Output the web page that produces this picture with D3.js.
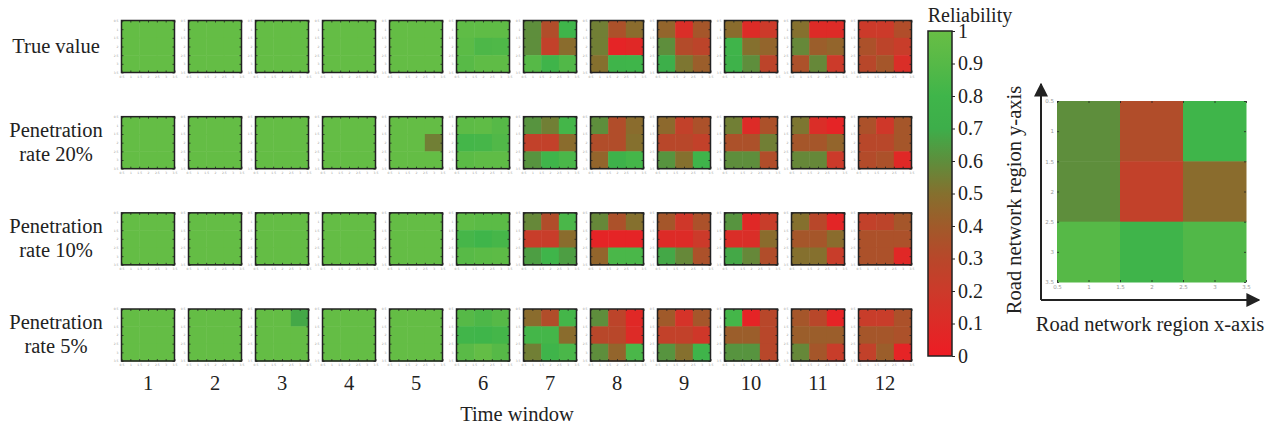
<!DOCTYPE html>
<html>
<head>
<meta charset="utf-8">
<script src="https://cdn.jsdelivr.net/npm/d3@7"></script>
<style>
  body { margin: 0; background: #fff; }
  svg { display: block; font-family: "Liberation Serif", "DejaVu Serif", serif; }
  .tiny text { font-family: "DejaVu Sans", sans-serif; fill: #999; }
</style>
</head>
<body>
<div id="chart"></div>
<script>
const rowLabels = [["True value"], ["Penetration", "rate 20%"], ["Penetration", "rate 10%"], ["Penetration", "rate 5%"]];
const timeWindows = [1, 2, 3, 4, 5, 6, 7, 8, 9, 10, 11, 12];
const colorbarTicks = [0, 0.1, 0.2, 0.3, 0.4, 0.5, 0.6, 0.7, 0.8, 0.9, 1];
const regionTicks = [0.5, 1, 1.5, 2, 2.5, 3, 3.5];

// colormap of the reliability scale (red -> brown -> green)
const cmapValues = [0, 0.1, 0.2, 0.3, 0.4, 0.5, 0.6, 0.7, 0.8, 0.9, 1];
const cmapColors = ["#ed1c24", "#dd2b27", "#cc3a2a", "#b8472a", "#a05a2a", "#85702e",
                    "#5e8e3c", "#3dae4a", "#3fb54a", "#56b947", "#68be45"];

// each grid: 3x3 reliability values, row by row (top to bottom)
const trueValue = [
  [0.98, 0.98, 0.98, 0.98, 0.98, 0.98, 0.98, 0.98, 0.98],
  [0.98, 0.98, 0.98, 0.98, 0.98, 0.98, 0.98, 0.98, 0.98],
  [0.98, 0.98, 0.98, 0.98, 0.98, 0.98, 0.98, 0.98, 0.98],
  [0.98, 0.98, 0.98, 0.98, 0.98, 0.98, 0.98, 0.98, 0.98],
  [0.98, 0.98, 0.98, 0.98, 0.98, 0.98, 0.98, 0.98, 0.98],
  [0.95, 0.95, 0.95, 0.93, 0.86, 0.87, 0.91, 0.95, 0.95],
  [0.6, 0.33, 0.8, 0.6, 0.25, 0.48, 0.9, 0.78, 0.88],
  [0.55, 0.35, 0.48, 0.55, 0.05, 0.08, 0.5, 0.78, 0.8],
  [0.45, 0.12, 0.38, 0.6, 0.32, 0.28, 0.72, 0.52, 0.42],
  [0.48, 0.1, 0.2, 0.78, 0.5, 0.45, 0.75, 0.6, 0.28],
  [0.5, 0.1, 0.1, 0.58, 0.42, 0.45, 0.35, 0.58, 0.2],
  [0.2, 0.2, 0.33, 0.35, 0.28, 0.22, 0.3, 0.38, 0.12]
];
const rate20 = [
  [0.98, 0.98, 0.98, 0.98, 0.98, 0.98, 0.98, 0.98, 0.98],
  [0.98, 0.98, 0.98, 0.98, 0.98, 0.98, 0.98, 0.98, 0.98],
  [0.98, 0.98, 0.98, 0.98, 0.98, 0.98, 0.98, 0.98, 0.98],
  [0.98, 0.98, 0.98, 0.98, 0.98, 0.98, 0.98, 0.98, 0.98],
  [0.98, 0.98, 0.98, 0.98, 0.98, 0.55, 0.98, 0.98, 0.98],
  [0.94, 0.95, 0.9, 0.82, 0.83, 0.88, 0.93, 0.95, 0.95],
  [0.62, 0.55, 0.82, 0.25, 0.25, 0.48, 0.62, 0.8, 0.85],
  [0.6, 0.33, 0.48, 0.33, 0.33, 0.5, 0.45, 0.75, 0.82],
  [0.47, 0.25, 0.35, 0.3, 0.3, 0.25, 0.62, 0.5, 0.78],
  [0.55, 0.1, 0.35, 0.35, 0.35, 0.55, 0.6, 0.6, 0.33],
  [0.52, 0.12, 0.05, 0.38, 0.38, 0.45, 0.58, 0.58, 0.2],
  [0.35, 0.18, 0.38, 0.3, 0.3, 0.38, 0.32, 0.35, 0.08]
];
const rate10 = [
  [0.98, 0.98, 0.98, 0.98, 0.98, 0.98, 0.98, 0.98, 0.98],
  [0.98, 0.98, 0.98, 0.98, 0.98, 0.98, 0.98, 0.98, 0.98],
  [0.98, 0.98, 0.98, 0.98, 0.98, 0.98, 0.98, 0.98, 0.98],
  [0.98, 0.98, 0.98, 0.98, 0.98, 0.98, 0.98, 0.98, 0.98],
  [0.98, 0.98, 0.98, 0.98, 0.98, 0.98, 0.98, 0.98, 0.98],
  [0.95, 0.93, 0.93, 0.83, 0.8, 0.83, 0.91, 0.93, 0.94],
  [0.58, 0.33, 0.85, 0.22, 0.22, 0.48, 0.65, 0.8, 0.65],
  [0.58, 0.35, 0.5, 0.05, 0.05, 0.05, 0.45, 0.85, 0.85],
  [0.38, 0.18, 0.35, 0.1, 0.1, 0.2, 0.68, 0.58, 0.35],
  [0.62, 0.08, 0.22, 0.12, 0.12, 0.48, 0.68, 0.58, 0.33],
  [0.5, 0.3, 0.06, 0.38, 0.38, 0.48, 0.5, 0.5, 0.22],
  [0.25, 0.28, 0.38, 0.35, 0.35, 0.35, 0.35, 0.35, 0.08]
];
const rate5 = [
  [0.98, 0.98, 0.98, 0.98, 0.98, 0.98, 0.98, 0.98, 0.98],
  [0.98, 0.98, 0.98, 0.98, 0.98, 0.98, 0.98, 0.98, 0.98],
  [0.98, 0.98, 0.68, 0.98, 0.98, 0.98, 0.98, 0.98, 0.98],
  [0.98, 0.98, 0.98, 0.98, 0.98, 0.98, 0.98, 0.98, 0.98],
  [0.98, 0.98, 0.98, 0.98, 0.98, 0.98, 0.98, 0.98, 0.98],
  [0.9, 0.86, 0.9, 0.81, 0.8, 0.82, 0.92, 0.97, 0.9],
  [0.48, 0.33, 0.82, 0.82, 0.82, 0.48, 0.55, 0.78, 0.85],
  [0.6, 0.28, 0.08, 0.3, 0.3, 0.1, 0.6, 0.45, 0.85],
  [0.4, 0.15, 0.38, 0.25, 0.25, 0.18, 0.62, 0.5, 0.78],
  [0.82, 0.05, 0.3, 0.42, 0.42, 0.3, 0.62, 0.62, 0.3],
  [0.38, 0.3, 0.05, 0.42, 0.42, 0.42, 0.58, 0.38, 0.22],
  [0.22, 0.22, 0.35, 0.38, 0.38, 0.35, 0.25, 0.42, 0.05]
];
// enlarged example: true value, time window 7
const exampleGrid = [0.6, 0.33, 0.8, 0.6, 0.25, 0.48, 0.9, 0.78, 0.88];

const rowsData = [trueValue, rate20, rate10, rate5];

const W = 1278, H = 428;
const cellW = 53, cellH = 52;
const fs = 20.5;

const svg = d3.select("#chart").append("svg")
    .attr("width", W)
    .attr("height", H);

const color = d3.scaleLinear()
    .domain(cmapValues)
    .range(cmapColors)
    .interpolate(d3.interpolateRgb);

const xCol = d3.scalePoint().domain(timeWindows).range([148, 885]);
const yRow = d3.scalePoint().domain(d3.range(rowLabels.length)).range([46.5, 335]);

// a single 3x3 heatmap with inward ticks
function drawHeatmap(g, grid, w, h, tickFont, border) {
    const gx = d3.scaleLinear().domain([0.5, 3.5]).range([0, w]);
    const gy = d3.scaleLinear().domain([0.5, 3.5]).range([0, h]);
    const cells = grid.map((v, i) => ({v: v, r: Math.floor(i / 3) + 1, c: (i % 3) + 1}));
    g.selectAll("rect.cell")
        .data(cells)
        .enter().append("rect")
        .attr("class", "cell")
        .attr("x", d => gx(d.c - 0.5))
        .attr("y", d => gy(d.r - 0.5))
        .attr("width", gx(1.5) - gx(0.5) + 0.5)
        .attr("height", gy(1.5) - gy(0.5) + 0.5)
        .attr("fill", d => color(d.v));

    const ticks = g.append("g").attr("class", "tiny");
    const xb = d3.axisBottom(gx).tickValues(regionTicks).tickSizeInner(-2).tickSizeOuter(0).tickPadding(3)
        .tickFormat(d3.format("~g"));
    const yl = d3.axisLeft(gy).tickValues(regionTicks).tickSizeInner(-2).tickSizeOuter(0).tickPadding(3)
        .tickFormat(d3.format("~g"));
    const xt = d3.axisTop(gx).tickValues(regionTicks).tickSizeInner(-2).tickSizeOuter(0).tickFormat("");
    const yr = d3.axisRight(gy).tickValues(regionTicks).tickSizeInner(-2).tickSizeOuter(0).tickFormat("");
    ticks.append("g").attr("transform", "translate(0," + h + ")").call(xb);
    ticks.append("g").call(yl);
    ticks.append("g").call(xt);
    ticks.append("g").attr("transform", "translate(" + w + ",0)").call(yr);
    ticks.selectAll(".domain").remove();
    ticks.selectAll("line").attr("stroke", "#222").attr("stroke-width", 0.8);
    ticks.selectAll("text").attr("font-size", tickFont).attr("fill", "#aaa");

    if (border) {
        g.append("rect")
            .attr("width", w)
            .attr("height", h)
            .attr("fill", "none")
            .attr("stroke", "#222")
            .attr("stroke-width", 1.5);
    }
}

rowsData.forEach((rowGrids, ri) => {
    rowGrids.forEach((grid, ci) => {
        const g = svg.append("g")
            .attr("transform", "translate(" + (xCol(timeWindows[ci]) - cellW / 2) + "," + (yRow(ri) - cellH / 2) + ")");
        drawHeatmap(g, grid, cellW, cellH, 3, true);
    });
    const lines = rowLabels[ri];
    const lbl = svg.append("text")
        .attr("x", 56)
        .attr("y", yRow(ri) - (lines.length - 1) * 12 + 6)
        .attr("text-anchor", "middle")
        .attr("font-size", fs)
        .attr("fill", "#222");
    lines.forEach((t, k) => {
        lbl.append("tspan").attr("x", 56).attr("dy", k === 0 ? 0 : 24).text(t);
    });
});

// time window labels
svg.append("g").selectAll("text")
    .data(timeWindows)
    .enter().append("text")
    .attr("x", d => xCol(d))
    .attr("y", 390)
    .attr("text-anchor", "middle")
    .attr("font-size", fs)
    .attr("fill", "#222")
    .text(d => d);

svg.append("text")
    .attr("x", 517)
    .attr("y", 421)
    .attr("text-anchor", "middle")
    .attr("font-size", fs)
    .attr("fill", "#222")
    .text("Time window");

// colorbar
const cbX = 928, cbW = 24;
const cbY = d3.scaleLinear().domain([0, 1]).range([356, 31]);
const defs = svg.append("defs");
const grad = defs.append("linearGradient")
    .attr("id", "cbGrad")
    .attr("x1", 0).attr("y1", 1).attr("x2", 0).attr("y2", 0);
grad.selectAll("stop")
    .data(cmapValues)
    .enter().append("stop")
    .attr("offset", d => d)
    .attr("stop-color", d => color(d));

svg.append("rect")
    .attr("x", cbX)
    .attr("y", cbY(1))
    .attr("width", cbW)
    .attr("height", cbY(0) - cbY(1))
    .attr("fill", "url(#cbGrad)")
    .attr("stroke", "#222")
    .attr("stroke-width", 1.5);

const cbAxis = svg.append("g")
    .attr("transform", "translate(" + (cbX + cbW) + ",0)")
    .call(d3.axisRight(cbY).tickValues(colorbarTicks).tickSizeInner(3).tickSizeOuter(0).tickPadding(3)
        .tickFormat(d3.format("~g")));
cbAxis.select(".domain").remove();
cbAxis.selectAll("line").attr("stroke", "#222");
cbAxis.selectAll("text")
    .attr("font-size", 20)
    .attr("font-family", "Liberation Serif, DejaVu Serif, serif")
    .attr("fill", "#222");

svg.append("text")
    .attr("x", 970)
    .attr("y", 22)
    .attr("text-anchor", "middle")
    .attr("font-size", 20)
    .attr("fill", "#222")
    .text("Reliability");

// enlarged example heatmap
const bigX = 1057, bigY = 101, bigW = 189, bigH = 181;
const big = svg.append("g").attr("transform", "translate(" + bigX + "," + bigY + ")");
drawHeatmap(big, exampleGrid, bigW, bigH, 5.5, false);

// axis arrows
const axX = 1041, axY = 300;
defs.append("marker")
    .attr("id", "arrow")
    .attr("viewBox", "0 0 10 10")
    .attr("refX", 9).attr("refY", 5)
    .attr("markerWidth", 7).attr("markerHeight", 7)
    .attr("orient", "auto")
    .append("path")
    .attr("d", "M0,0 L10,5 L0,10 z")
    .attr("fill", "#222");
svg.append("line")
    .attr("x1", axX).attr("y1", axY)
    .attr("x2", axX).attr("y2", 84)
    .attr("stroke", "#222").attr("stroke-width", 2)
    .attr("marker-end", "url(#arrow)");
svg.append("line")
    .attr("x1", axX).attr("y1", axY)
    .attr("x2", 1259).attr("y2", axY)
    .attr("stroke", "#222").attr("stroke-width", 2)
    .attr("marker-end", "url(#arrow)");

svg.append("text")
    .attr("transform", "translate(1021,200) rotate(-90)")
    .attr("text-anchor", "middle")
    .attr("font-size", fs)
    .attr("fill", "#222")
    .text("Road network region y-axis");

svg.append("text")
    .attr("x", 1150)
    .attr("y", 331)
    .attr("text-anchor", "middle")
    .attr("font-size", fs)
    .attr("fill", "#222")
    .text("Road network region x-axis");
</script>
</body>
</html>
